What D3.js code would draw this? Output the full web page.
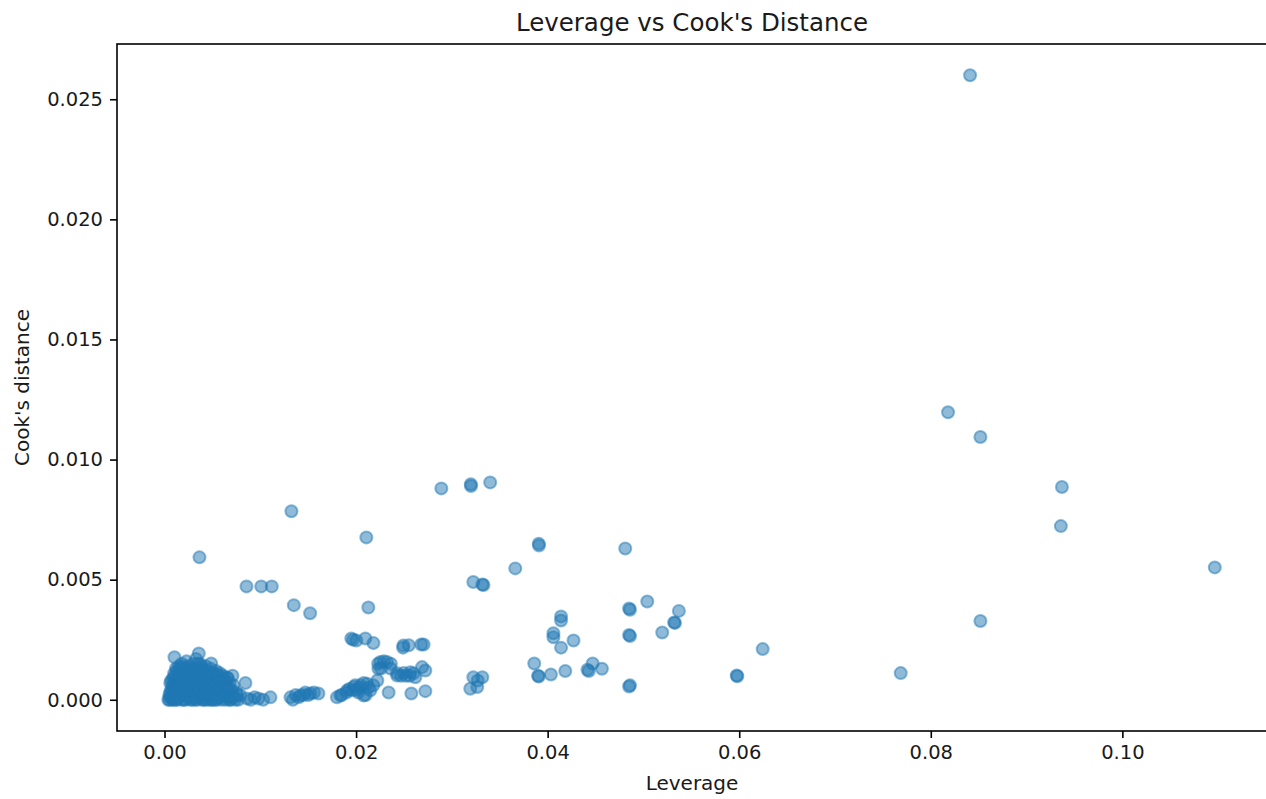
<!DOCTYPE html>
<html>
<head>
<meta charset="utf-8">
<script src="https://cdn.jsdelivr.net/npm/d3@7"></script>
<style>
  body { margin: 0; background: #fff; }
  svg { display: block; font-family: "DejaVu Sans", sans-serif; }
</style>
</head>
<body>
<svg id="chart"></svg>
<script>
// [leverage, cook's distance]
const cluster = [
  [0.0004,0.0000],[0.0005,0.0002],[0.0006,0.0001],[0.0007,0.0004],[0.0008,0.0000],[0.0008,0.0006],
  [0.0009,0.0009],[0.0010,0.0002],[0.0010,0.0011],[0.0011,0.0005],[0.0012,0.0013],[0.0012,0.0000],
  [0.0013,0.0008],[0.0014,0.0003],[0.0015,0.0014],[0.0015,0.0010],[0.0016,0.0001],[0.0017,0.0006],
  [0.0018,0.0015],[0.0018,0.0012],[0.0019,0.0003],[0.0020,0.0009],[0.0020,0.0000],[0.0021,0.0013],
  [0.0022,0.0005],[0.0023,0.0016],[0.0024,0.0011],[0.0024,0.0002],[0.0025,0.0007],[0.0026,0.0014],
  [0.0027,0.0000],[0.0028,0.0010],[0.0029,0.0004],[0.0030,0.0015],[0.0030,0.0012],[0.0031,0.0001],
  [0.0032,0.0008],[0.0033,0.0017],[0.0034,0.0005],[0.0035,0.0013],[0.0035,0.0002],[0.0036,0.0010],
  [0.0037,0.0015],[0.0038,0.0006],[0.0039,0.0000],[0.0040,0.0012],[0.0041,0.0003],[0.0042,0.0009],
  [0.0043,0.0014],[0.0044,0.0001],[0.0045,0.0007],[0.0046,0.0011],[0.0047,0.0004],[0.0048,0.0013],
  [0.0049,0.0000],[0.0050,0.0008],[0.0051,0.0010],[0.0052,0.0002],[0.0053,0.0006],[0.0054,0.0012],
  [0.0055,0.0000],[0.0056,0.0009],[0.0057,0.0004],[0.0058,0.0011],[0.0059,0.0001],[0.0060,0.0007],
  [0.0061,0.0010],[0.0062,0.0003],[0.0063,0.0008],[0.0064,0.0000],[0.0065,0.0005],[0.0066,0.0009],
  [0.0067,0.0002],[0.0068,0.0007],[0.0069,0.0000],[0.0070,0.0004],[0.0072,0.0006],[0.0073,0.0001],
  [0.0075,0.0003],[0.0077,0.0000],[0.0079,0.0002],
  [0.0006,0.0007],[0.0009,0.0003],[0.0011,0.0008],[0.0014,0.0011],[0.0016,0.0005],[0.0019,0.0010],
  [0.0021,0.0002],[0.0023,0.0008],[0.0026,0.0004],[0.0028,0.0001],[0.0029,0.0013],[0.0032,0.0003],
  [0.0034,0.0011],[0.0036,0.0006],[0.0038,0.0014],[0.0041,0.0008],[0.0043,0.0005],[0.0044,0.0012],
  [0.0047,0.0009],[0.0050,0.0003],[0.0053,0.0011],[0.0057,0.0008],[0.0060,0.0002],[0.0063,0.0005],
  [0.0066,0.0001],[0.0071,0.0002],
  [0.0005,0.0000],[0.0006,0.0003],[0.0007,0.0001],[0.0007,0.0008],[0.0008,0.0002],[0.0009,0.0005],
  [0.0009,0.0000],[0.0010,0.0007],[0.0010,0.0004],[0.0011,0.0001],[0.0011,0.0010],[0.0012,0.0006],
  [0.0012,0.0003],[0.0013,0.0000],[0.0013,0.0012],[0.0014,0.0007],[0.0014,0.0001],[0.0015,0.0004],
  [0.0015,0.0006],[0.0016,0.0009],[0.0016,0.0013],[0.0017,0.0002],[0.0017,0.0010],[0.0018,0.0000],
  [0.0018,0.0007],[0.0019,0.0005],[0.0019,0.0014],[0.0020,0.0002],[0.0020,0.0011],[0.0021,0.0007],
  [0.0021,0.0004],[0.0022,0.0010],[0.0022,0.0000],[0.0023,0.0003],[0.0023,0.0013],[0.0024,0.0006],
  [0.0024,0.0009],[0.0025,0.0001],[0.0025,0.0012],[0.0026,0.0008],[0.0026,0.0002],[0.0027,0.0005],
  [0.0027,0.0011],[0.0028,0.0003],[0.0028,0.0007],[0.0029,0.0000],[0.0029,0.0009],[0.0030,0.0006],
  [0.0030,0.0002],[0.0031,0.0010],[0.0031,0.0004],[0.0032,0.0012],[0.0032,0.0000],[0.0033,0.0007],
  [0.0033,0.0002],[0.0034,0.0009],[0.0034,0.0000],[0.0035,0.0006],[0.0035,0.0015],[0.0036,0.0003],
  [0.0036,0.0012],[0.0037,0.0001],[0.0037,0.0008],[0.0038,0.0004],[0.0038,0.0010],[0.0039,0.0007],
  [0.0039,0.0013],[0.0040,0.0002],[0.0040,0.0005],[0.0041,0.0011],[0.0041,0.0000],[0.0042,0.0006],
  [0.0042,0.0002],[0.0043,0.0010],[0.0043,0.0000],[0.0044,0.0004],[0.0044,0.0008],[0.0045,0.0002],
  [0.0045,0.0012],[0.0046,0.0005],[0.0046,0.0000],[0.0047,0.0007],[0.0048,0.0002],[0.0048,0.0010],
  [0.0049,0.0005],[0.0050,0.0000],[0.0050,0.0011],[0.0051,0.0004],[0.0052,0.0008],[0.0053,0.0000],
  [0.0054,0.0003],[0.0055,0.0007],[0.0056,0.0001],[0.0057,0.0010],[0.0058,0.0005],[0.0059,0.0008],
  [0.0060,0.0000],[0.0061,0.0004],[0.0062,0.0009],[0.0064,0.0006],[0.0065,0.0002],[0.0067,0.0005],
  [0.0068,0.0000],[0.0070,0.0001],[0.0074,0.0000],[0.0076,0.0002],
  [0.00104,0.00177],[0.00358,0.00193],[0.00487,0.00151],[0.00654,0.00093],[0.0071,0.0010],[0.00845,0.0007]
];

const midPoints = [
  [0.00863,0.00005],[0.0098,0.00005],[0.01106,0.0001],[0.01315,0.0001],[0.0137,0.0002],[0.01419,0.00018],
  [0.0147,0.0003],[0.01523,0.00026],[0.01607,0.00026],
  [0.0090,0.0000],[0.0094,0.0001],[0.0103,0.0000],[0.0134,0.0000],[0.0140,0.0001],[0.0145,0.0002],
  [0.0150,0.0002],[0.0156,0.0003],
  [0.00365,0.00593],[0.00856,0.00472],[0.0101,0.00472],[0.0112,0.00472],[0.01325,0.00785],[0.0135,0.00394],
  [0.0152,0.0036],[0.02107,0.00676],[0.02128,0.00384],
  [0.0180,0.0001],[0.01836,0.00018],[0.01906,0.00039],[0.01975,0.00053],[0.02045,0.0006],[0.02115,0.00067],
  [0.02079,0.00018],[0.02024,0.0003],[0.02149,0.00039],[0.0193,0.00045],[0.0201,0.0004],
  [0.0185,0.0002],[0.0190,0.0003],[0.0196,0.0004],[0.0199,0.0006],[0.0204,0.0005],[0.0208,0.0007],
  [0.0210,0.0002],[0.0213,0.0005],[0.0218,0.0006],
  [0.0195,0.00255],[0.0197,0.0025],[0.02003,0.00247],[0.02097,0.00255],[0.02181,0.00236],
  [0.02254,0.00157],[0.02323,0.00157],[0.02233,0.00129],[0.02363,0.0015],[0.0223,0.0015],
  [0.0226,0.0013],[0.0229,0.0016],[0.0236,0.0013],
  [0.02428,0.00101],[0.02497,0.00111],[0.02566,0.00115],[0.02619,0.00094],[0.0252,0.0010],
  [0.0243,0.0011],[0.0247,0.0010],[0.0256,0.0010],[0.0260,0.0011],
  [0.02689,0.00136],[0.02723,0.00122],[0.02222,0.0008],[0.0234,0.0003],[0.02577,0.00026],[0.02723,0.00036],
  [0.02494,0.00226],[0.0255,0.00227],[0.0249,0.00217],[0.02705,0.0023],[0.0268,0.0023],
  [0.0289,0.0088],[0.03198,0.00897],[0.0320,0.0089],[0.0340,0.00905],
  [0.03224,0.0049],[0.03318,0.0048],[0.0333,0.00478],
  [0.03224,0.00094],[0.03318,0.00094],[0.03192,0.00046],[0.03265,0.00053],[0.0327,0.0008],
  [0.03662,0.00547],[0.03907,0.0065],[0.0391,0.00642],
  [0.0414,0.00347],[0.0414,0.0033],[0.0406,0.00277],[0.0406,0.0026],[0.0427,0.00247],[0.0414,0.00217],
  [0.0386,0.00151],[0.03907,0.00097],[0.0390,0.0010],[0.04034,0.00105],[0.04184,0.0012],
  [0.04416,0.00125],[0.0443,0.0012],[0.0447,0.00151],[0.04567,0.00129],
  [0.0481,0.0063],[0.0504,0.00409],[0.0485,0.0038],[0.0486,0.00375],[0.0485,0.0027],[0.0486,0.00265],
  [0.0485,0.00055],[0.0486,0.0006],[0.05196,0.0028],[0.0532,0.00322],[0.0533,0.0032],[0.0537,0.0037]
];

const outliers = [
  [0.05974,0.00101],[0.0598,0.00098],[0.06245,0.00211],[0.07686,0.00111],[0.08518,0.00328],
  [0.08518,0.01094],[0.0818,0.01197],[0.0841,0.0260],[0.09369,0.00886],[0.09358,0.00723],[0.10965,0.00551]
];

const xTicks = [0, 0.02, 0.04, 0.06, 0.08, 0.10];
const yTicks = [0, 0.005, 0.010, 0.015, 0.020, 0.025];

const width = 1266, height = 799;
const plotLeft = 117, plotRight = 1267, plotTop = 44, plotBottom = 731;

const points = cluster.concat(midPoints, outliers);

const xScale = d3.scaleLinear()
  .domain([-0.00496, 0.1151])
  .range([plotLeft, plotRight]);

const yScale = d3.scaleLinear()
  .domain([-0.0013, 0.0273])
  .range([plotBottom, plotTop]);

const svg = d3.select("#chart")
  .attr("width", width)
  .attr("height", height);

svg.append("rect")
  .attr("width", width).attr("height", height)
  .attr("fill", "#fff");

// points
svg.append("g")
  .selectAll("circle")
  .data(points)
  .enter()
  .append("circle")
    .attr("cx", d => xScale(d[0]))
    .attr("cy", d => yScale(d[1]))
    .attr("r", 6)
    .attr("fill", "#1f77b4")
    .attr("fill-opacity", 0.5)
    .attr("stroke", "#1f77b4")
    .attr("stroke-opacity", 0.5)
    .attr("stroke-width", 2);

// axes
const xAxis = d3.axisBottom(xScale)
  .tickValues(xTicks)
  .tickFormat(d3.format(".2f"))
  .tickSize(7)
  .tickPadding(7);

const yAxis = d3.axisLeft(yScale)
  .tickValues(yTicks)
  .tickFormat(d3.format(".3f"))
  .tickSize(7)
  .tickPadding(7);

const gx = svg.append("g")
  .attr("transform", `translate(0, ${plotBottom})`)
  .call(xAxis);

const gy = svg.append("g")
  .attr("transform", `translate(${plotLeft}, 0)`)
  .call(yAxis);

[gx, gy].forEach(g => {
  g.select(".domain").remove();
  g.selectAll("line").attr("stroke", "#000").attr("stroke-width", 1.6);
  g.selectAll("text")
    .attr("fill", "#1a1a1a")
    .style("font-size", "19.5px")
    .style("font-family", "DejaVu Sans");
});

// frame
svg.append("rect")
  .attr("x", plotLeft).attr("y", plotTop)
  .attr("width", plotRight - plotLeft).attr("height", plotBottom - plotTop)
  .attr("fill", "none")
  .attr("stroke", "#000")
  .attr("stroke-width", 1.6);

// x axis label
svg.append("text")
  .attr("x", (plotLeft + plotRight) / 2)
  .attr("y", 790)
  .attr("text-anchor", "middle")
  .attr("fill", "#1a1a1a")
  .style("font-size", "20px")
  .text("Leverage");

// y axis label
svg.append("text")
  .attr("transform", `translate(29, ${(plotTop + plotBottom) / 2}) rotate(-90)`)
  .attr("text-anchor", "middle")
  .attr("fill", "#1a1a1a")
  .style("font-size", "20px")
  .text("Cook's distance");

// title
svg.append("text")
  .attr("x", (plotLeft + plotRight) / 2)
  .attr("y", 31)
  .attr("text-anchor", "middle")
  .attr("fill", "#1a1a1a")
  .style("font-size", "24.5px")
  .text("Leverage vs Cook's Distance");
</script>
</body>
</html>
